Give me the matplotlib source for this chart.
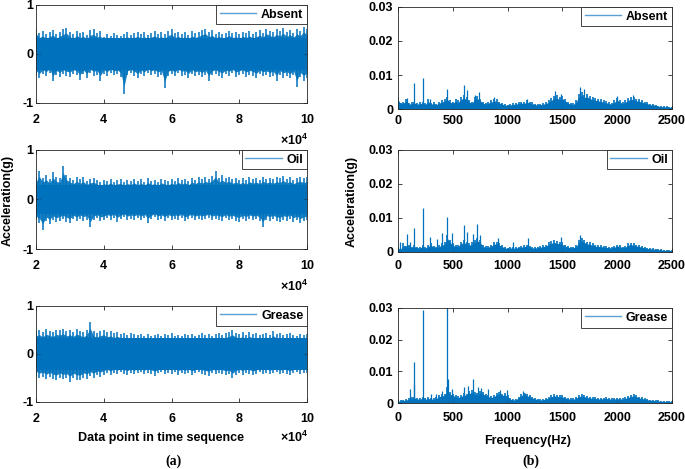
import numpy as np
import matplotlib
matplotlib.use("Agg")
import matplotlib.pyplot as plt
from matplotlib.lines import Line2D

plt.rcParams['font.family'] = ['Liberation Sans', 'DejaVu Sans']
plt.rcParams['font.weight'] = 'bold'
plt.rcParams['mathtext.fontset'] = 'custom'
plt.rcParams['mathtext.rm'] = 'Liberation Sans:bold'
plt.rcParams['mathtext.it'] = 'Liberation Sans:bold'
plt.rcParams['mathtext.bf'] = 'Liberation Sans:bold'
plt.rcParams['mathtext.default'] = 'rm'

BLUE = '#0072BD'
LEG_BLUE = '#5b9fd4'
FS = 9

# ---------------- time-domain envelopes (g), sampled every 1000 points from 20000 to 100000
time_index = np.arange(20000, 100001, 1000)

absent_hi = [0.52,0.42,0.46,0.40,0.44,0.48,0.41,0.45,0.50,0.53,
             0.44,0.40,0.47,0.42,0.45,0.39,0.48,0.50,0.43,0.46,
             0.35,0.40,0.37,0.43,0.39,0.36,0.41,0.44,0.38,0.42,
             0.45,0.40,0.44,0.38,0.43,0.46,0.41,0.44,0.40,0.47,
             0.50,0.42,0.45,0.40,0.44,0.39,0.46,0.42,0.45,0.49,
             0.52,0.44,0.48,0.41,0.45,0.40,0.43,0.47,0.42,0.44,
             0.40,0.45,0.42,0.46,0.41,0.44,0.48,0.43,0.52,0.47,
             0.44,0.50,0.46,0.53,0.45,0.49,0.43,0.51,0.47,0.56,
             0.50]
absent_lo = [-0.42,-0.50,-0.40,-0.45,-0.38,-0.56,-0.42,-0.47,-0.40,-0.44,
             -0.46,-0.40,-0.43,-0.53,-0.41,-0.50,-0.39,-0.44,-0.42,-0.55,
             -0.40,-0.45,-0.38,-0.43,-0.41,-0.47,-0.82,-0.43,-0.39,-0.44,
             -0.50,-0.41,-0.45,-0.38,-0.43,-0.40,-0.46,-0.42,-0.70,-0.44,
             -0.41,-0.45,-0.39,-0.44,-0.42,-0.50,-0.40,-0.45,-0.43,-0.47,
             -0.42,-0.55,-0.43,-0.40,-0.45,-0.48,-0.41,-0.44,-0.39,-0.46,
             -0.43,-0.40,-0.46,-0.42,-0.44,-0.50,-0.41,-0.45,-0.43,-0.47,
             -0.44,-0.55,-0.42,-0.48,-0.45,-0.50,-0.43,-0.68,-0.47,-0.55,
             -0.48]
oil_hi = [0.45,0.58,0.44,0.50,0.42,0.55,0.46,0.43,0.68,0.50,
          0.44,0.40,0.46,0.41,0.45,0.38,0.42,0.44,0.39,0.35,
          0.40,0.37,0.42,0.36,0.39,0.41,0.35,0.40,0.38,0.42,
          0.37,0.41,0.36,0.43,0.38,0.40,0.36,0.42,0.39,0.37,
          0.41,0.38,0.43,0.39,0.42,0.37,0.44,0.40,0.45,0.41,
          0.46,0.42,0.48,0.57,0.44,0.49,0.43,0.46,0.41,0.44,
          0.40,0.43,0.39,0.45,0.41,0.44,0.40,0.46,0.42,0.44,
          0.41,0.45,0.43,0.48,0.42,0.45,0.40,0.44,0.46,0.43,
          0.45]
oil_lo = [-0.42,-0.48,-0.61,-0.44,-0.50,-0.41,-0.46,-0.43,-0.40,-0.45,
          -0.48,-0.40,-0.44,-0.39,-0.43,-0.41,-0.56,-0.42,-0.38,-0.44,
          -0.42,-0.38,-0.41,-0.37,-0.45,-0.40,-0.36,-0.42,-0.39,-0.41,
          -0.38,-0.42,-0.37,-0.48,-0.40,-0.36,-0.41,-0.39,-0.43,-0.38,
          -0.42,-0.39,-0.41,-0.37,-0.44,-0.40,-0.38,-0.42,-0.39,-0.41,
          -0.40,-0.37,-0.42,-0.39,-0.41,-0.43,-0.38,-0.42,-0.40,-0.44,
          -0.45,-0.40,-0.43,-0.39,-0.42,-0.40,-0.44,-0.56,-0.41,-0.43,
          -0.40,-0.44,-0.45,-0.41,-0.43,-0.39,-0.46,-0.42,-0.48,-0.44,
          -0.42]
grease_hi = [0.47,0.50,0.45,0.52,0.48,0.46,0.51,0.49,0.53,0.47,
             0.50,0.46,0.52,0.48,0.45,0.50,0.67,0.47,0.44,0.48,
             0.50,0.45,0.47,0.43,0.46,0.42,0.44,0.40,0.43,0.41,
             0.39,0.42,0.38,0.41,0.37,0.40,0.42,0.38,0.41,0.39,
             0.43,0.38,0.40,0.37,0.41,0.39,0.42,0.38,0.40,0.43,
             0.39,0.42,0.38,0.41,0.44,0.40,0.43,0.46,0.50,0.44,
             0.42,0.45,0.40,0.46,0.41,0.43,0.39,0.42,0.44,0.40,
             0.48,0.41,0.43,0.39,0.42,0.44,0.40,0.38,0.42,0.40,
             0.42]
grease_lo = [-0.45,-0.50,-0.47,-0.53,-0.48,-0.52,-0.55,-0.49,-0.53,-0.51,
             -0.58,-0.50,-0.54,-0.55,-0.49,-0.52,-0.46,-0.50,-0.44,-0.47,
             -0.43,-0.40,-0.44,-0.39,-0.42,-0.38,-0.41,-0.43,-0.39,-0.42,
             -0.40,-0.38,-0.42,-0.39,-0.41,-0.45,-0.40,-0.38,-0.42,-0.39,
             -0.41,-0.38,-0.43,-0.40,-0.42,-0.39,-0.44,-0.40,-0.38,-0.41,
             -0.43,-0.45,-0.40,-0.42,-0.39,-0.41,-0.44,-0.42,-0.50,-0.43,
             -0.40,-0.43,-0.39,-0.41,-0.44,-0.42,-0.38,-0.41,-0.39,-0.42,
             -0.40,-0.38,-0.42,-0.39,-0.41,-0.43,-0.40,-0.38,-0.41,-0.39,
             -0.40]
# half-width (g) of the dense core of each record
core_level = [0.32, 0.30, 0.34]

# ---------------- spectra (units of 1e-3 g), envelope every 25 Hz from 0 to 2500
freq_hz = np.arange(0, 2501, 25)

absent_spec = [3.5,1.8,2.2,3.0,1.8,2.0,2.2,1.8,2.0,2.2,
               1.7,2.8,1.8,2.0,1.6,2.2,2.5,3.0,3.5,2.5,
               2.2,2.8,2.5,3.5,4.0,3.5,2.5,2.2,3.5,3.8,
               3.0,2.2,1.8,2.2,2.5,3.0,2.8,2.2,1.8,1.5,
               1.3,1.5,1.7,1.8,2.0,2.2,2.0,2.5,2.2,2.0,
               1.6,1.5,1.6,1.8,2.0,2.5,3.2,3.8,4.0,3.5,
               3.8,3.0,2.2,1.8,1.7,2.5,4.5,5.0,4.2,4.5,
               3.8,3.5,3.2,3.0,2.8,2.5,2.3,2.0,1.8,2.5,
               3.2,2.5,2.0,2.5,3.2,3.5,3.5,3.0,2.8,2.5,
               2.2,2.0,1.5,1.6,1.3,1.0,0.9,0.8,0.8,0.7,
               0.6]
oil_spec = [1.5,1.0,2.5,1.8,2.2,1.5,2.0,1.6,1.5,2.0,
            1.5,2.0,2.5,1.8,1.5,2.0,2.5,2.8,5.0,3.5,
            2.5,2.0,2.2,3.0,3.5,3.0,2.5,2.8,3.5,4.0,
            3.5,2.0,1.8,1.8,2.2,2.8,3.0,2.5,2.0,1.5,
            1.3,1.5,1.4,1.5,1.6,1.8,2.0,2.2,1.8,1.5,
            1.5,1.6,1.8,2.0,2.2,2.8,3.2,3.5,3.2,3.0,
            2.8,2.2,1.8,1.5,1.6,2.0,3.5,4.0,3.5,3.0,
            2.8,2.5,2.2,2.0,2.0,1.8,1.7,1.6,1.5,1.8,
            2.2,2.0,1.6,1.8,2.5,2.7,2.5,2.2,2.0,1.8,
            1.5,1.3,1.2,1.1,1.0,0.9,0.8,0.7,0.6,0.6,
            0.5]
grease_spec = [0.8,0.8,1.0,1.2,1.5,1.8,2.0,1.6,1.5,2.0,
               1.5,1.8,1.6,1.5,1.8,2.5,2.8,3.0,5.0,3.5,
               3.0,2.5,2.2,2.5,3.2,3.0,3.8,4.0,3.5,3.2,
               3.8,3.5,3.0,2.5,2.2,2.5,3.2,3.5,3.0,3.2,
               2.5,1.5,1.2,1.3,2.0,3.0,3.2,3.0,2.5,2.0,
               1.6,1.3,1.2,1.3,1.6,2.0,2.5,2.8,2.6,2.5,
               2.4,2.0,1.7,1.5,1.5,2.0,2.5,2.8,2.5,2.2,
               2.0,1.8,1.8,1.6,1.6,1.7,1.8,1.6,1.5,1.6,
               1.7,1.6,1.5,1.8,2.2,2.6,2.8,2.5,2.0,1.8,
               1.5,1.3,1.1,1.0,0.9,0.8,0.7,0.6,0.6,0.5,
               0.5]

# narrow spectral peaks: frequency (Hz) and amplitude (1e-3 g)
absent_peak_f = [80,150,225,290,445,600,630,700,740,880,1180,1430,1490,1660,1700,2000,2140]
absent_peak_a = [3.2,7.5,9.0,3.0,5.8,7.2,5.5,4.2,5.0,3.5,2.8,5.3,4.5,6.6,5.8,3.8,4.0]
oil_peak_f = [15,80,110,150,225,295,360,400,450,490,600,625,680,725,750,915,1050,1185,1490,1665]
oil_peak_a = [2.8,5.2,3.0,7.0,13.0,4.5,3.8,5.5,10.2,5.5,8.0,6.0,5.2,8.2,5.0,4.0,3.0,4.0,4.5,5.0]
grease_peak_f = [110,145,150,225,300,350,400,450,455,490,600,640,680,730,760,820,930,990,1140,1160]
grease_peak_a = [4.5,12.8,6.0,29.5,2.8,3.0,3.8,31.0,7.5,4.5,5.0,5.5,7.5,5.0,4.8,4.5,4.0,4.2,3.7,3.3]

labels = ['Absent', 'Oil', 'Grease']
time_hi = [absent_hi, oil_hi, grease_hi]
time_lo = [absent_lo, oil_lo, grease_lo]
spectra = [absent_spec, oil_spec, grease_spec]
peak_f = [absent_peak_f, oil_peak_f, grease_peak_f]
peak_a = [absent_peak_a, oil_peak_a, grease_peak_a]

W, H = 685, 469
fig = plt.figure(figsize=(W / 100, H / 100), dpi=100)

def rect(x0, x1, y0, y1):
    return [x0 / W, 1 - y1 / H, (x1 - x0) / W, (y1 - y0) / H]

left_rects = [rect(36, 307, 5, 103), rect(36, 307, 150, 249), rect(36, 307, 306, 402)]
right_rects = [rect(398, 672, 7, 109), rect(398, 672, 150, 252), rect(398, 672, 308, 403)]
right_pads = [4.0, 6.0, 6.8]
offset_y = [140, 286, 437]

def style(ax, xpad, ypad):
    for s in ax.spines.values():
        s.set_linewidth(0.6)
        s.set_color('#262626')
    ax.tick_params(direction='in', top=True, right=True, length=3, width=0.6,
                   labelsize=FS, color='#262626')
    ax.tick_params(axis='x', pad=xpad)
    ax.tick_params(axis='y', pad=ypad)
    for lab in ax.get_xticklabels() + ax.get_yticklabels():
        lab.set_fontweight('bold')

def add_legend(ax, name):
    h = Line2D([], [], color=LEG_BLUE, lw=1.0)
    leg = ax.legend([h], [name], loc='upper right', borderaxespad=0,
                    fancybox=False, framealpha=1, handlelength=2.9,
                    handletextpad=0.4, borderpad=0.3,
                    prop={'size': FS, 'weight': 'bold'})
    leg.get_frame().set_edgecolor('#262626')
    leg.get_frame().set_linewidth(0.6)

for i in range(3):
    ax = fig.add_axes(left_rects[i])
    hi = np.array(time_hi[i])
    lo = np.array(time_lo[i])
    c = core_level[i]
    # dense core
    ax.fill_between(time_index, np.maximum(lo, -c) * 0.9 - 0.1 * c,
                    np.minimum(hi, c) * 0.9 + 0.1 * c, color=BLUE, lw=0)
    # jagged fringe: individual excursions
    ax.vlines(time_index, lo, hi, color=BLUE, lw=1.1)
    ax.fill_between(time_index, 0.8 * lo, 0.8 * hi, color=BLUE, lw=0, alpha=0.9)
    ax.set_xlim(20000, 100000)
    ax.set_ylim(-1, 1)
    ax.set_xticks([20000, 40000, 60000, 80000, 100000])
    ax.set_xticklabels(['2', '4', '6', '8', '10'])
    ax.set_yticks([-1, 0, 1])
    ax.set_yticklabels(['-1', '0', '1'])
    style(ax, 8.0, 2.0)
    add_legend(ax, labels[i])
    fig.text(308 / W, 1 - offset_y[i] / H, r'$\times 10^{4}$', ha='right',
             va='center', fontsize=FS)

    ax2 = fig.add_axes(right_rects[i])
    env = np.array(spectra[i]) * 1e-3
    ax2.fill_between(freq_hz, 0, 0.8 * env, color=BLUE, lw=0)
    ax2.vlines(freq_hz, 0, env, color=BLUE, lw=1.2)
    ax2.vlines(peak_f[i], 0, np.array(peak_a[i]) * 1e-3, color=BLUE, lw=0.9)
    ax2.set_xlim(0, 2500)
    ax2.set_ylim(0, 0.03)
    ax2.set_xticks([0, 500, 1000, 1500, 2000, 2500])
    ax2.set_yticks([0, 0.01, 0.02, 0.03])
    ax2.set_yticklabels(['0', '0.01', '0.02', '0.03'])
    style(ax2, right_pads[i], 3.5)
    add_legend(ax2, labels[i])

fig.text(8 / W, 1 - 200 / H, 'Acceleration(g)', rotation=90, ha='center',
         va='center', fontsize=FS, fontweight='bold')
fig.text(352 / W, 1 - 201 / H, 'Acceleration(g)', rotation=90, ha='center',
         va='center', fontsize=FS, fontweight='bold')
fig.text(161 / W, 1 - 438 / H, 'Data point in time sequence', ha='center',
         va='center', fontsize=FS, fontweight='bold')
fig.text(528 / W, 1 - 441 / H, 'Frequency(Hz)', ha='center', va='center',
         fontsize=FS, fontweight='bold')
fig.text(173 / W, 1 - 461 / H, '(a)', ha='center', va='center', fontsize=10,
         fontweight='bold', family=['Liberation Serif', 'DejaVu Serif'])
fig.text(531 / W, 1 - 461 / H, '(b)', ha='center', va='center', fontsize=10,
         fontweight='bold', family=['Liberation Serif', 'DejaVu Serif'])

fig.savefig('out.png', dpi=100)
